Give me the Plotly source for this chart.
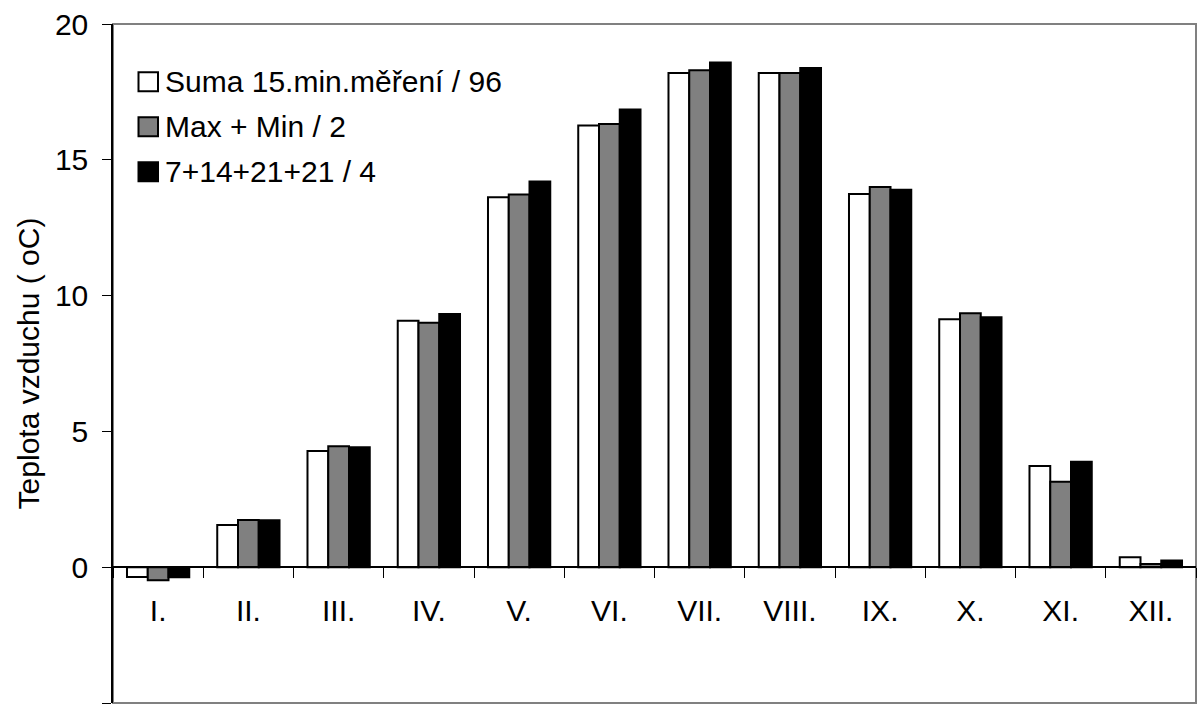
import plotly.graph_objects as go

# Monthly mean air temperature computed three ways
months = ["I.", "II.", "III.", "IV.", "V.", "VI.", "VII.", "VIII.", "IX.", "X.", "XI.", "XII."]
suma_15min = [-0.36, 1.55, 4.28, 9.07, 13.62, 16.26, 18.20, 18.20, 13.74, 9.13, 3.73, 0.37]
max_min = [-0.48, 1.74, 4.45, 9.00, 13.72, 16.32, 18.30, 18.20, 14.00, 9.35, 3.15, 0.12]
klimatermin = [-0.37, 1.73, 4.42, 9.32, 14.20, 16.85, 18.58, 18.38, 13.90, 9.20, 3.88, 0.25]

series_names = ["Suma 15.min.měření / 96", "Max + Min / 2", "7+14+21+21 / 4"]
series_colors = ["#ffffff", "#808080", "#000000"]
series_values = [suma_15min, max_min, klimatermin]

W, H = 1198, 713
ML, MR, MT, MB = 113, 2, 24, 10
FONT = "Liberation Sans, Arial, sans-serif"
FS = 30

fig = go.Figure()
for name, color, vals in zip(series_names, series_colors, series_values):
    fig.add_trace(go.Bar(
        x=months, y=vals, name=name,
        marker=dict(color=color, line=dict(color="#000000", width=2)),
        showlegend=False,
    ))

# Legend drawn as boxed swatches with labels in the upper-left of the plot
pw, ph = W - ML - MR, H - MT - MB


def px_x(p):
    return (p - ML) / pw


def px_y(p):
    return 1 - (p - MT) / ph


shapes = [
    # grey frame around the plotting area
    dict(type="rect", xref="paper", yref="paper", x0=0, x1=1, y0=0, y1=1,
         line=dict(color="#808080", width=2), layer="below"),
]
annotations = []
for i, (name, color) in enumerate(zip(series_names, series_colors)):
    cy = 81.7 + 45 * i
    shapes.append(dict(type="rect", xref="paper", yref="paper",
                       x0=px_x(138.5), x1=px_x(158), y0=px_y(cy + 9.5), y1=px_y(cy - 9.5),
                       fillcolor=color, line=dict(color="#000000", width=2)))
    annotations.append(dict(xref="paper", yref="paper", x=px_x(163), y=px_y(cy),
                            xanchor="left", yanchor="middle", showarrow=False,
                            text=name, font=dict(family=FONT, size=FS, color="#000000")))

fig.update_layout(
    width=W, height=H,
    margin=dict(l=ML, r=MR, t=MT, b=MB),
    paper_bgcolor="#ffffff", plot_bgcolor="#ffffff",
    barmode="group", bargap=0.31, bargroupgap=0,
    font=dict(family=FONT, size=FS, color="#000000"),
    shapes=shapes, annotations=annotations,
    xaxis=dict(
        type="category", anchor="free", position=0.2,
        showline=True, linecolor="#000000", linewidth=1.5,
        ticks="outside", tickson="boundaries", ticklen=10, tickwidth=1.2, tickcolor="#000000",
        tickfont=dict(family=FONT, size=FS), ticklabelstandoff=17,
        showgrid=False, zeroline=False, range=[-0.5, 11.5],
    ),
    yaxis=dict(
        range=[-5, 20], tickvals=[-5, 0, 5, 10, 15, 20],
        showline=True, linecolor="#000000", linewidth=1.5,
        ticks="outside", ticklen=9, tickwidth=1.2, tickcolor="#000000",
        tickfont=dict(family=FONT, size=FS), ticklabelstandoff=8,
        showgrid=False, zeroline=False,
        title=dict(text="Teplota vzduchu ( oC)", font=dict(family=FONT, size=FS), standoff=6),
        automargin=False,
    ),
)

fig.write_html("out.html")
